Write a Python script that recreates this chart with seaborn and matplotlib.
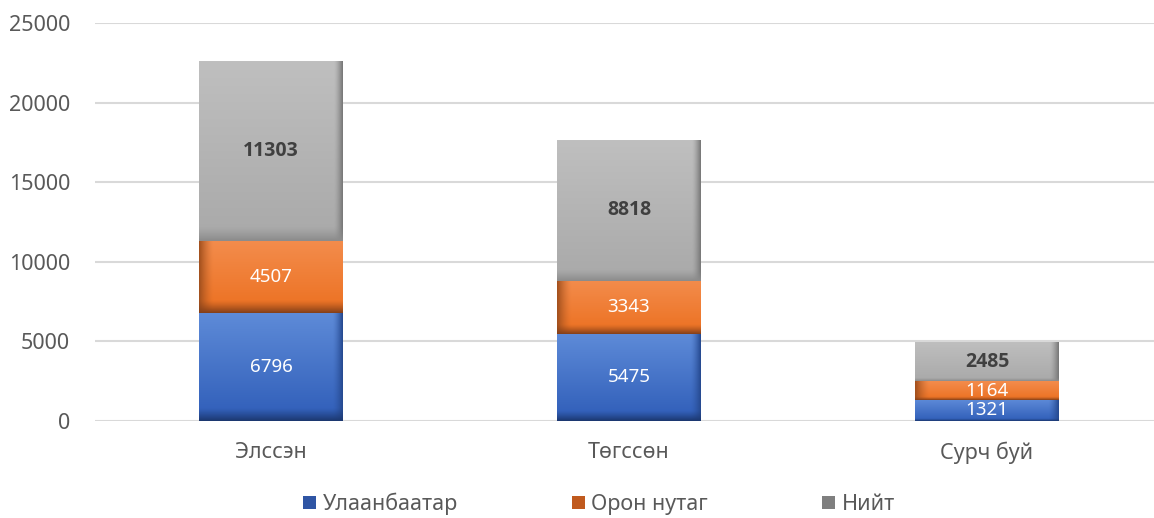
import numpy as np
import pandas as pd
import matplotlib
matplotlib.use("Agg")
import matplotlib.pyplot as plt
from matplotlib.colors import to_rgb
from matplotlib.patches import Patch
import seaborn as sns

categories = ["Элссэн", "Төгссөн", "Сурч буй"]
ulaanbaatar = [6796, 5475, 1321]
oron_nutag = [4507, 3343, 1164]
niit = [11303, 8818, 2485]
series_names = ["Улаанбаатар", "Орон нутаг", "Нийт"]
y_ticks = [0, 5000, 10000, 15000, 20000, 25000]

sns.set_theme(style="white")
plt.rcParams["font.family"] = ["Noto Sans", "DejaVu Sans"]

TEXT = "#595959"
GRID = "#D9D9D9"

fig = plt.figure(figsize=(11.54, 5.18), dpi=100)
ax = fig.add_axes([95 / 1154, (518 - 421) / 518, (1154 - 95) / 1154, (421 - 23) / 518])


def shade(top, bottom, edge, edge_side, edge_frac, base_dark, band=0.1, n=120):
    """Vertical gradient with a darkened side edge and bottom band."""
    t = np.linspace(0, 1, n)[:, None, None]
    s = np.linspace(0, 1, n)[None, :, None]
    top = np.array(to_rgb(top))
    bottom = np.array(to_rgb(bottom))
    edge = np.array(to_rgb(edge))
    base_dark = np.array(to_rgb(base_dark))
    img = top * (1 - t) + bottom * t
    img = np.broadcast_to(img, (n, n, 3)).copy()
    if edge_side == "right":
        w = np.clip((s - (1 - edge_frac)) / edge_frac, 0, 1)
    else:
        w = np.clip((edge_frac - s) / edge_frac, 0, 1)
    w = w ** 1.5
    img = img * (1 - w) + edge * w
    b = np.clip((t - (1 - band)) / band, 0, 1) ** 1.3
    img = img * (1 - b) + base_dark * b
    return img


styles = [
    dict(color="#4472C4", img=shade("#5E8BD8", "#2F5DB8", "#274B92", "right", 0.07, "#1C3870", 0.12),
         txt="white", weight="normal", size=13.5, family=["Noto Sans", "DejaVu Sans"]),
    dict(color="#ED7D31", img=shade("#F38C4C", "#EC7020", "#A4511E", "left", 0.10, "#84401A", 0.18),
         txt="white", weight="normal", size=13.5, family=["Noto Sans", "DejaVu Sans"]),
    dict(color="#A5A5A5", img=shade("#BFBFBF", "#A9A9A9", "#7A7A7A", "right", 0.06, "#8C8C8C", 0.08),
         txt="#404040", weight="bold", size=14, family=["Open Sans", "DejaVu Sans"]),
]

bottoms = np.zeros(len(categories))
for vals, st in zip([ulaanbaatar, oron_nutag, niit], styles):
    df = pd.DataFrame({"cat": categories, "val": vals})
    n_before = len(ax.patches)
    sns.barplot(data=df, x="cat", y="val", color=st["color"], width=0.40,
                bottom=bottoms, ax=ax, saturation=1, errorbar=None, linewidth=0)
    new = ax.patches[n_before:]
    for p, v in zip(new, vals):
        x0, y0 = p.get_x(), p.get_y()
        w, h = p.get_width(), p.get_height()
        im = ax.imshow(st["img"], extent=(x0, x0 + w, y0, y0 + h), aspect="auto",
                       origin="upper", zorder=2.5, interpolation="bilinear")
        im.set_clip_path(p)
        ax.text(x0 + w / 2, y0 + h / 2, f"{v}", ha="center", va="center",
                color=st["txt"], fontsize=st["size"], fontweight=st["weight"],
                family=st["family"], zorder=4)
    bottoms = bottoms + np.array(vals)

ax.set_xlim(-(271 - 95) / 358, (1154 - 271) / 358)
ax.set_ylim(0, 25000)
ax.set_yticks(y_ticks)
ax.set_yticklabels([str(t) for t in y_ticks])
ax.set_xlabel("")
ax.set_ylabel("")
for sp in ax.spines.values():
    sp.set_visible(False)
ax.yaxis.grid(True, color=GRID, linewidth=1.5)
ax.xaxis.grid(False)
ax.set_axisbelow(True)
ax.tick_params(axis="y", colors=TEXT, labelsize=15.5, length=0, pad=18)
ax.tick_params(axis="x", colors=TEXT, labelsize=15.5, length=0, pad=15)

handles = [
    Patch(facecolor="#2F55A4", edgecolor="none"),
    Patch(facecolor="#C05A1E", edgecolor="none"),
    Patch(facecolor="#7F7F7F", edgecolor="none"),
]
fig.legend(handles, series_names, loc="center", bbox_to_anchor=(0.519, 14 / 518),
           ncol=3, frameon=False, fontsize=15.5, labelcolor=TEXT,
           handlelength=0.6, handleheight=0.6, handletextpad=0.3, columnspacing=5.3)

fig.savefig("out.png", dpi=100)
